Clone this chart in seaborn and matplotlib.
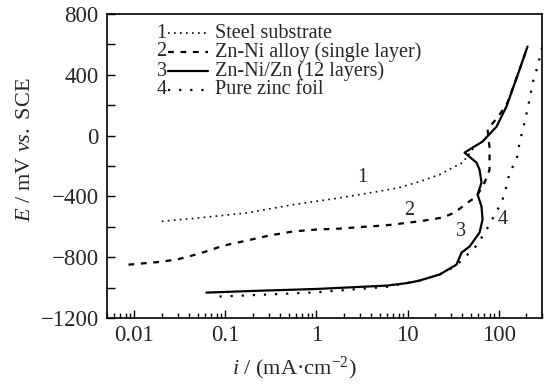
import numpy as np
import pandas as pd
import matplotlib
matplotlib.use("Agg")
import matplotlib.pyplot as plt
import seaborn as sns
from matplotlib.ticker import FixedLocator, LogLocator, NullFormatter

# ---- data ----
i_steel = [0.02, 0.052, 0.17, 0.56, 1.79, 4.9, 8.1, 13.5, 22.5, 31.2, 40.2, 51.8, 58.8, 66.7, 95, 122, 170, 208]
E_steel = [-564, -541, -509, -454, -410, -366, -342, -303, -257, -211, -178, -92, -59, -39, 59, 191, 434, 586]

i_znni = [0.0086, 0.0175, 0.029, 0.052, 0.095, 0.17, 0.30, 0.56, 1.0, 1.79, 3.54, 5.88, 13.5, 24.3, 32.9,
          45.6, 57.3, 70.2, 79.6, 79.6, 75.7, 102.6, 125.6, 170, 208]
E_znni = [-849, -833, -816, -776, -724, -691, -658, -630, -618, -612, -599, -590, -564, -539, -507,
          -441, -401, -309, -224, -79, 39, 138, 217, 434, 586]

i_multi = [0.0618, 0.2, 1.0, 5.88, 10, 13.5, 22.5, 34.5, 39.2, 48, 61.8, 66.7, 65, 58.8, 65, 61.8,
           57.3, 42.3, 66.7, 95, 122, 170, 208]
E_multi = [-1033, -1022, -1009, -987, -970, -954, -914, -849, -770, -730, -638, -553, -467, -388, -309, -224,
           -178, -112, -39, 59, 191, 434, 586]

i_zinc = [0.086, 0.3, 1.0, 5.88, 13.5, 22.5, 32.9, 40.2, 58.8, 70.2, 79.6, 90.4, 108, 122, 132, 158, 170,
          193, 219, 237, 268, 297, 315]
E_zinc = [-1059, -1045, -1031, -995, -954, -914, -862, -816, -717, -638, -586, -520, -441, -336, -243, -158,
          -46, 86, 237, 349, 454, 566, 640]

legend_nums = ["1", "2", "3", "4"]
legend_labels = ["Steel substrate", "Zn-Ni alloy (single layer)", "Zn-Ni/Zn (12 layers)", "Pure zinc foil"]
curve_tags = ["1", "2", "3", "4"]
tag_i = [3.2, 10.3, 39, 111]
tag_E = [-276, -493, -632, -553]

y_ticks = [-1200, -800, -400, 0, 400, 800]
y_minor = [-1000, -600, -200, 200, 600]
x_ticks = [0.01, 0.1, 1, 10, 100]
x_ticklabels = ["0.01", "0.1", "1", "10", "100"]

# ---- style ----
sns.set_style("ticks")
plt.rcParams["font.family"] = ["Liberation Serif", "DejaVu Serif"]
plt.rcParams["mathtext.fontset"] = "custom"
plt.rcParams["mathtext.rm"] = "Liberation Serif"
plt.rcParams["mathtext.it"] = "Liberation Serif:italic"
plt.rcParams["axes.unicode_minus"] = True

fig = plt.figure(figsize=(5.44, 3.84), dpi=100)
ax = fig.add_axes([107 / 544, 1 - 318 / 384, 435 / 544, 304 / 384])

styles = [
    dict(linestyle=(0, (1, 2.6)), lw=1.2),
    dict(linestyle=(0, (2.6, 3.0)), lw=1.6),
    dict(linestyle="-", lw=1.6),
    dict(linestyle=(0, (1, 4)), lw=1.6),
]
series = [(i_steel, E_steel), (i_znni, E_znni), (i_multi, E_multi), (i_zinc, E_zinc)]
for (xs, ys), st in zip(series, styles):
    df = pd.DataFrame({"i": xs, "E": ys})
    sns.lineplot(data=df, x="i", y="E", sort=False, estimator=None, color="black", ax=ax, **st)

ax.set_xscale("log")
ax.set_xlim(0.005, 300)
ax.set_ylim(-1200, 800)

ax.xaxis.set_major_locator(FixedLocator(x_ticks))
ax.set_xticklabels(x_ticklabels)
ax.xaxis.set_minor_locator(LogLocator(base=10, subs=np.arange(2, 10), numticks=20))
ax.xaxis.set_minor_formatter(NullFormatter())
ax.yaxis.set_major_locator(FixedLocator(y_ticks))
ax.yaxis.set_minor_locator(FixedLocator(y_minor))

ax.tick_params(axis="both", which="both", direction="in", top=False, right=False,
               labelsize=16.5, width=1.0, color="black")
ax.tick_params(axis="x", which="major", length=6, pad=5)
ax.tick_params(axis="x", which="minor", length=3.5)
ax.tick_params(axis="y", which="both", length=6, pad=6)
for sp in ax.spines.values():
    sp.set_linewidth(1.2)
    sp.set_color("black")

ax.set_xlabel(r"$i$ / (mA·cm$^{-2}$)", fontsize=16)
ax.set_ylabel(r"$E$ / mV $vs.$ SCE", fontsize=16)
ax.xaxis.set_label_coords(0.43, -0.12)
ax.yaxis.set_label_coords(-0.165, 0.553)

# curve tags
for t, xi, yi in zip(curve_tags, tag_i, tag_E):
    ax.text(xi, yi, t, fontsize=14.5, ha="center", va="center")

# manual legend
row_y = [0.9375, 0.875, 0.8125, 0.75]
for n, lab, st, ry in zip(legend_nums, legend_labels, styles, row_y):
    ax.text(0.137, ry, n, transform=ax.transAxes, fontsize=14.5, ha="right", va="center")
    ax.plot([0.141, 0.232], [ry, ry], transform=ax.transAxes, color="black", **st)
    ax.text(0.248, ry, lab, transform=ax.transAxes, fontsize=14.5, ha="left", va="center")

fig.savefig("out.png", dpi=100)
